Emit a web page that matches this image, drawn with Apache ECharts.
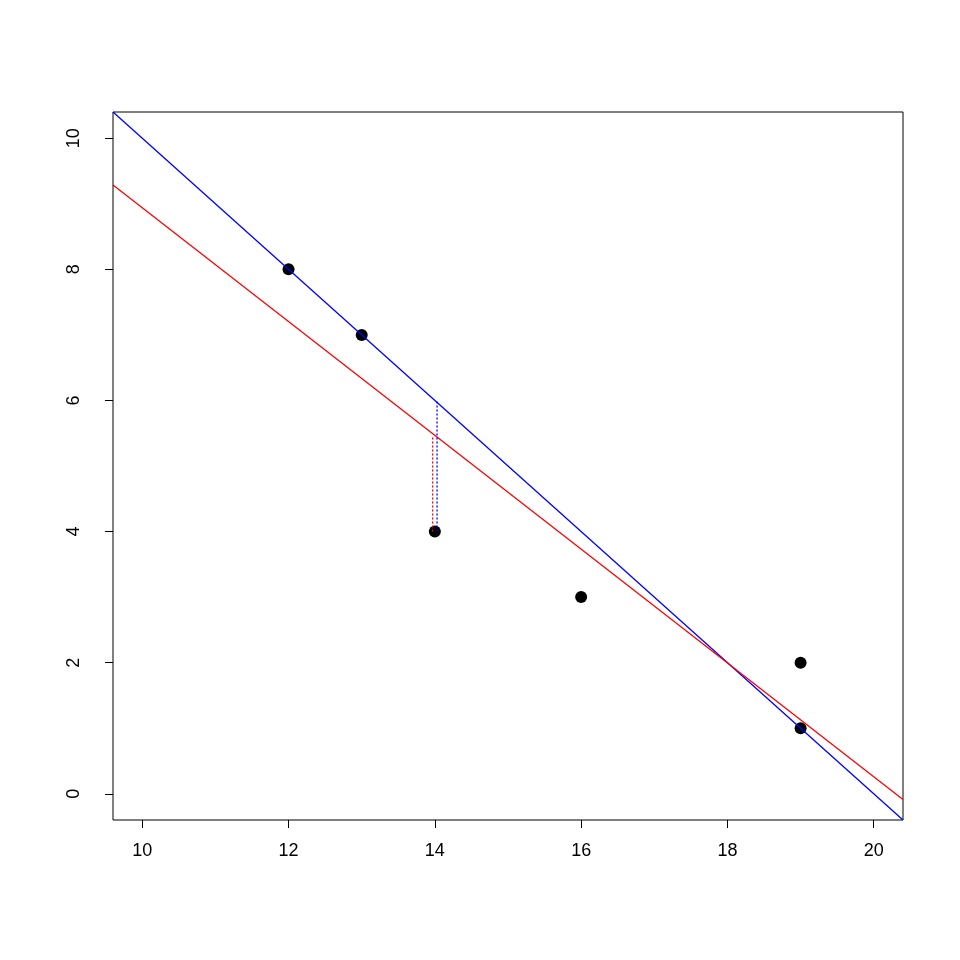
<!DOCTYPE html>
<html><head><meta charset="utf-8">
<script src="https://cdn.jsdelivr.net/npm/echarts@6/dist/echarts.min.js"></script>
<style>html,body{margin:0;background:#fff}#c{width:960px;height:960px}</style>
</head><body><div id="c"></div>
<script>
const xs = [12, 13, 14, 16, 19, 19];
const ys = [8, 7, 4, 3, 2, 1];
const xTicks = [10, 12, 14, 16, 18, 20];
const yTicks = [0, 2, 4, 6, 8, 10];
const trueLine = [20, -1];        // intercept, slope
const fitLine = [17.6209, -0.86813];
const xRange = [9.6, 20.4];
const yRange = [-0.4, 10.4];
const focusX = 14, focusY = 4;

const f = (c, x) => c[0] + c[1] * x;
const F = 'Liberation Sans, Arial, sans-serif';
const sub = c => ({ s: { fontSize: 13, color: c, fontFamily: F, fontWeight: 'bold', verticalAlign: 'bottom', padding: [11, 0, 0, 0] },
                    n: { fontSize: 19, color: c, fontFamily: F, fontWeight: 'bold' } });
const lbl = (x, y, fmt, color) => ({
  type: 'scatter', symbolSize: 0, silent: true, data: [[x, y]], itemStyle: { opacity: 0 },
  label: { show: true, position: 'inside', formatter: fmt, color: color, fontFamily: F, fontSize: 19, rich: sub(color) }
});

const chart = echarts.init(document.getElementById('c'));
chart.setOption({
  animation: false,
  grid: { left: 113, right: 57, top: 112, bottom: 140, show: true, borderColor: '#000', borderWidth: 1 },
  xAxis: { type: 'value', min: xRange[0], max: xRange[1], splitLine: { show: false },
    axisLine: { show: false, onZero: false },
    axisTick: { show: true, length: 8, customValues: xTicks, lineStyle: { color: '#000' } },
    axisLabel: { customValues: xTicks, color: '#000', fontSize: 18, fontFamily: F, margin: 22 } },
  yAxis: { type: 'value', min: yRange[0], max: yRange[1], splitLine: { show: false },
    axisLine: { show: false, onZero: false },
    axisTick: { show: true, length: 8, customValues: yTicks, lineStyle: { color: '#000' } },
    axisLabel: { customValues: yTicks, color: '#000', fontSize: 18, fontFamily: F, rotate: 90, margin: 30 } },
  series: [
    { type: 'line', symbol: 'none', clip: true, lineStyle: { color: '#0000ff', width: 1.3 },
      data: xRange.map(x => [x, f(trueLine, x)]) },
    { type: 'line', symbol: 'none', clip: true, lineStyle: { color: '#ff0000', width: 1.3 },
      data: xRange.map(x => [x, f(fitLine, x)]) },
    { type: 'line', symbol: 'none', lineStyle: { color: '#0000ff', width: 1.3, type: [2, 2] },
      data: [[focusX + 0.03, focusY], [focusX + 0.03, f(trueLine, focusX)]] },
    { type: 'line', symbol: 'none', lineStyle: { color: '#ff0000', width: 1.3, type: [2, 2] },
      data: [[focusX - 0.03, focusY], [focusX - 0.03, f(fitLine, focusX)]] },
    { type: 'scatter', symbolSize: 12, itemStyle: { color: '#000', opacity: 1 }, data: xs.map((x, i) => [x, ys[i]]) },
    lbl(11.2, 9.55, '{n|y=β}{s|0}{n|+β}{s|1}{n|x}', '#0000ff'),
    lbl(11.0, 7.0, '{n|ŷ=b}{s|0}{n|+b}{s|1}{n|x}', '#ff0000'),
    lbl(13.7, 4.5, '{n|û}{s|i}', '#ff0000'),
    lbl(14.3, 5.05, '{n|u}{s|i}', '#0000ff'),
    lbl(14.0, 3.6, '{n|(x}{s|i}{n|,y}{s|i}{n|)}', '#000')
  ]
});
</script></body></html>
